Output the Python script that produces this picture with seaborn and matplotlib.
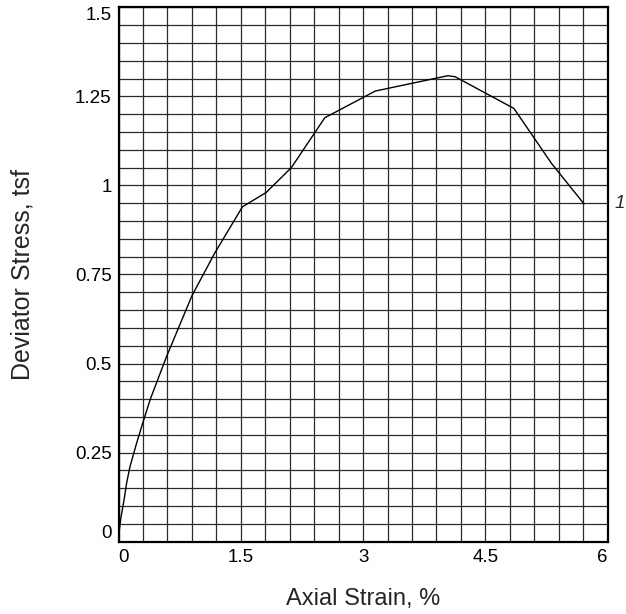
import matplotlib
matplotlib.use("Agg")
import matplotlib.pyplot as plt
import seaborn as sns
import pandas as pd
from matplotlib.ticker import MultipleLocator, FixedLocator

# Data
strain = [0.0, 0.01, 0.03, 0.07, 0.10, 0.14, 0.22, 0.30, 0.39, 0.59, 0.90, 1.18,
          1.52, 1.81, 2.12, 2.53, 3.15, 4.04, 4.13, 4.85, 5.31, 5.71]
stress = [0.0, 0.033, 0.068, 0.12, 0.165, 0.21, 0.275, 0.335, 0.40, 0.52, 0.69, 0.81,
          0.94, 0.98, 1.05, 1.19, 1.265, 1.308, 1.305, 1.216, 1.062, 0.948]
curve_label = "1"
x_ticks = [0, 1.5, 3, 4.5, 6]
x_tick_labels = ["0", "1.5", "3", "4.5", "6"]
y_ticks = [0, 0.25, 0.5, 0.75, 1.0, 1.25, 1.5]
y_tick_labels = ["0", "0.25", "0.5", "0.75", "1", "1.25", "1.5"]

sns.set_style("white")
plt.rcParams['font.family'] = ['Liberation Sans', 'DejaVu Sans']

fig = plt.figure(figsize=(6.26, 6.14), dpi=100)
ax = fig.add_axes([0.1893, 0.1178, 0.9708 - 0.1893, 0.9881 - 0.1178])

df = pd.DataFrame({"strain": strain, "stress": stress})
sns.lineplot(data=df, x="strain", y="stress", color="black", linewidth=1.0,
             estimator=None, sort=False, ax=ax, zorder=3)

ax.set_xlim(0, 6)
ax.set_ylim(0, 1.5)
ax.xaxis.set_major_locator(FixedLocator(x_ticks))
ax.yaxis.set_major_locator(FixedLocator(y_ticks))
ax.set_xticklabels(x_tick_labels)
ax.set_yticklabels(y_tick_labels)
ax.xaxis.set_minor_locator(MultipleLocator(0.3))
ax.yaxis.set_minor_locator(MultipleLocator(0.05))
ax.grid(True, which="both", color="#2a2a2a", linewidth=0.9)
ax.set_axisbelow(True)
ax.tick_params(which="both", length=0, labelsize=13.5, pad=5, colors="black")

# keep the end labels inside the axis range like the reference
xl = ax.get_xticklabels()
xl[0].set_horizontalalignment("left")
xl[-1].set_horizontalalignment("right")
yl = ax.get_yticklabels()
yl[0].set_verticalalignment("bottom")
yl[-1].set_verticalalignment("top")

for s in ax.spines.values():
    s.set_visible(True)
    s.set_color("black")
    s.set_linewidth(1.6)

ax.set_xlabel("Axial Strain, %", fontsize=17, labelpad=16)
ax.set_ylabel("Deviator Stress, tsf", fontsize=18, labelpad=29)

ax.annotate(curve_label, xy=(strain[-1], stress[-1]), xytext=(36, 0),
            textcoords="offset pixels", fontsize=13.5, fontstyle="italic",
            ha="center", va="center", annotation_clip=False)

fig.savefig("out.png", dpi=100)
